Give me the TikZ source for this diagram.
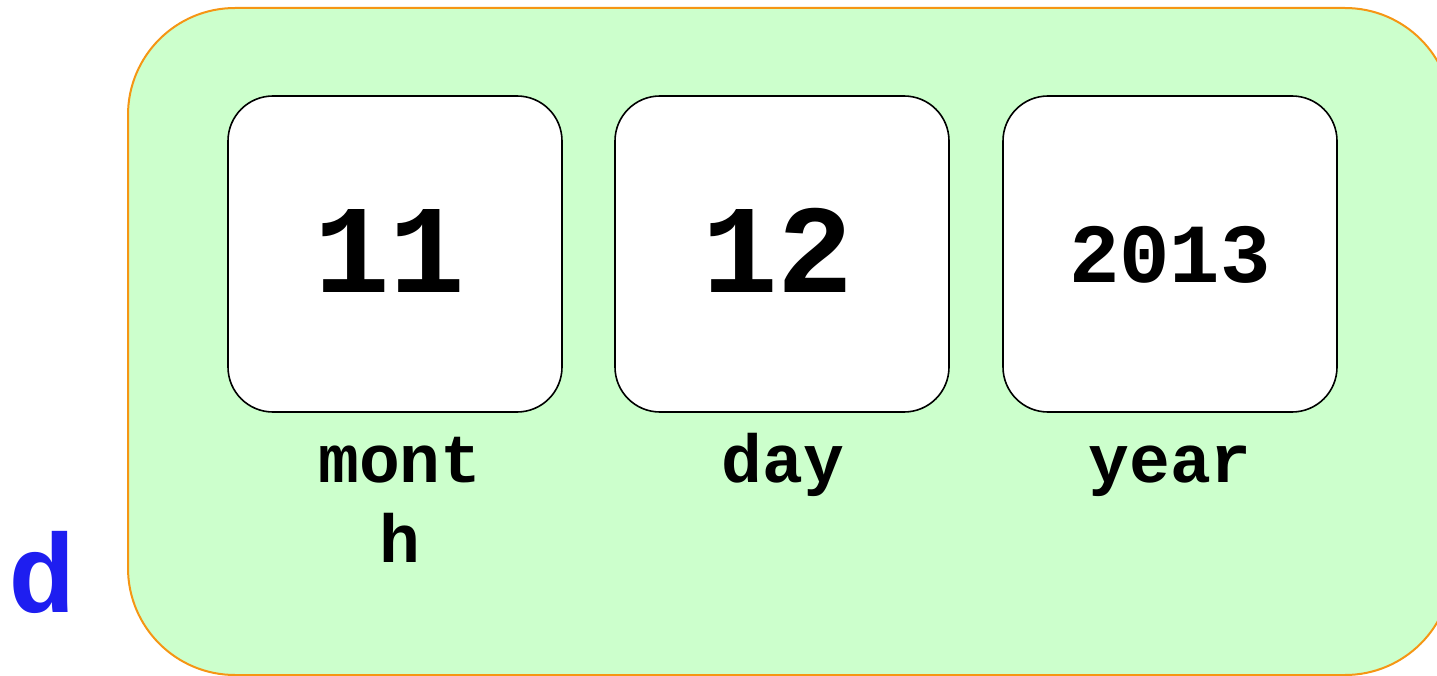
\documentclass[tikz,border=0pt]{standalone}
\usepackage{fontspec}
\setmonofont{Liberation Mono}
\definecolor{panelgreen}{RGB}{204,255,204}
\definecolor{panelorange}{RGB}{245,150,20}
\definecolor{dblue}{RGB}{30,30,240}
\tikzset{
  panel/.style={draw=panelorange, fill=panelgreen, line width=2pt, rounded corners=107pt},
  valbox/.style={draw=black, fill=white, line width=1.6pt, rounded corners=45pt},
  bignum/.style={anchor=base, inner sep=0pt, font=\ttfamily\bfseries\fontsize{126}{126}\selectfont},
  midnum/.style={anchor=base, inner sep=0pt, font=\ttfamily\bfseries\fontsize{84}{84}\selectfont},
  lbl/.style={anchor=base, inner sep=0pt, align=center, font=\ttfamily\bfseries\fontsize{68}{80}\selectfont},
}
\begin{document}
\begin{tikzpicture}[x=1pt,y=-1pt]
\useasboundingbox (0,0) rectangle (1437,676);
\clip (0,0) rectangle (1437,676);
\draw[panel] (128,8) rectangle (1452,675);
\draw[valbox] (228,96) rectangle (562,412);
\draw[valbox] (615,96) rectangle (949,412);
\draw[valbox] (1003,96) rectangle (1337,412);
\node[bignum] (v11) at (390,292) {11};
\node[bignum] (v12) at (778,292) {12};
\node[midnum] (v2013) at (1170,283) {2013};
\node[lbl] (lmonth) at (400,562) {mont\\h};
\node[lbl] (lday) at (783,482) {day};
\node[lbl] (lyear) at (1170,482) {year};
\node[anchor=base west, inner sep=0pt, text=dblue, font=\ttfamily\bfseries\fontsize{112}{112}\selectfont] (dlab) at (8,612) {d};
\end{tikzpicture}
\end{document}
